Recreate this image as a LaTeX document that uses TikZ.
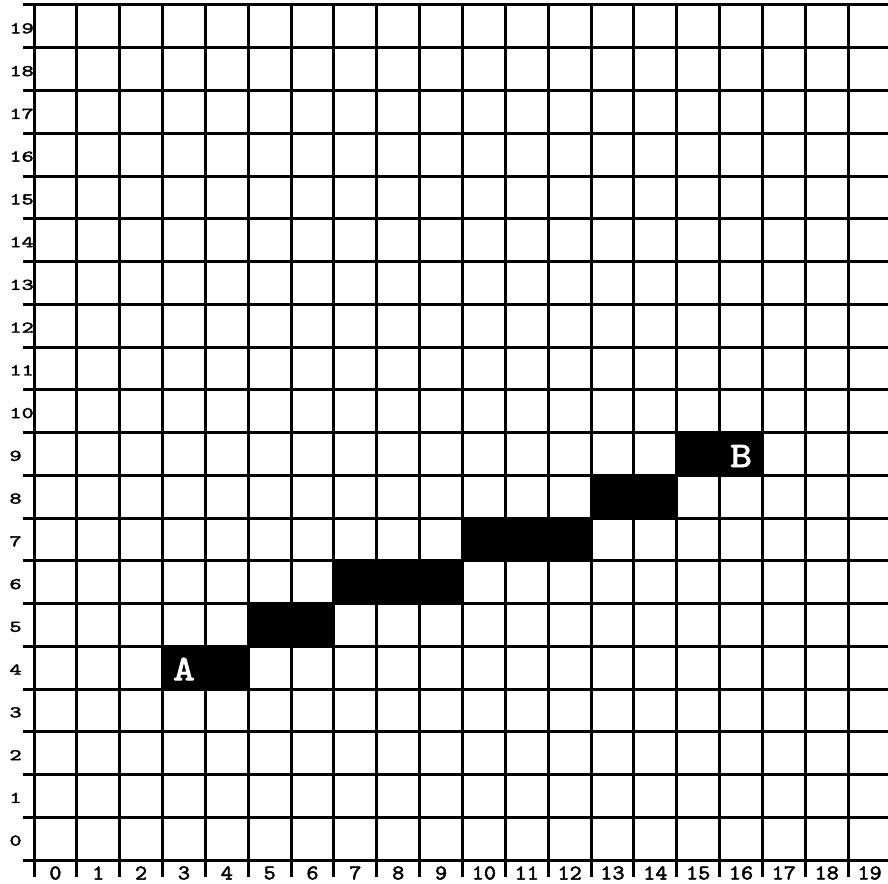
\documentclass[tikz,border=0pt]{standalone}
\usepackage{fontspec}
\usepackage{graphicx}
\newfontfamily\courb[FakeBold=2.2]{lmmono10-regular.otf}
\begin{document}
\begin{tikzpicture}[x=1pt,y=-1pt,line width=3pt,
  gridline/.style={draw=black,line width=3pt},
  cellfill/.style={fill=black},
  xlab/.style={inner sep=0pt,font=\fontsize{21}{21}\selectfont\courb},
  ylab/.style={inner sep=0pt,anchor=west,font=\fontsize{21}{21}\selectfont\courb},
  ptlab/.style={inner sep=0pt,text=white,font=\fontsize{36}{36}\selectfont\courb}]
\useasboundingbox (0,0) rectangle (888,883);
\fill[white] (0,0) rectangle (888,883);
\def\cw{42.85}
\def\rh{42.75}
% filled cells: column, row, count
\foreach \c/\r/\n in {3/4/2,5/5/2,7/6/3,10/7/3,13/8/2,15/9/2}
  \path[cellfill] ({34+\c*\cw},{860-(\r+1)*\rh}) rectangle ({34+(\c+\n)*\cw},{860-\r*\rh});
% grid
\foreach \i in {0,...,19}
  \path[gridline] ({34+\i*\cw},5) -- ({34+\i*\cw},877);
\foreach \j in {0,...,20}
  \path[gridline] (23,{5+\j*\rh}) -- (888,{5+\j*\rh});
% axis labels
\foreach \i in {0,...,19}
  \node[xlab] (x\i) at ({34+(\i+0.5)*\cw},873) {\scalebox{1.1}[1]{\i}};
\foreach \j in {0,...,19}
  \node[ylab] (y\j) at (8,{860-(\j+0.5)*\rh+2}) {\scalebox{1.1}[0.78]{\j}};
% point labels
\node[ptlab] (A) at ({34+3.5*\cw},669) {\scalebox{1.15}[1]{A}};
\node[ptlab] (B) at ({34+16.5*\cw},456) {\scalebox{1.15}[1]{B}};
\end{tikzpicture}
\end{document}
